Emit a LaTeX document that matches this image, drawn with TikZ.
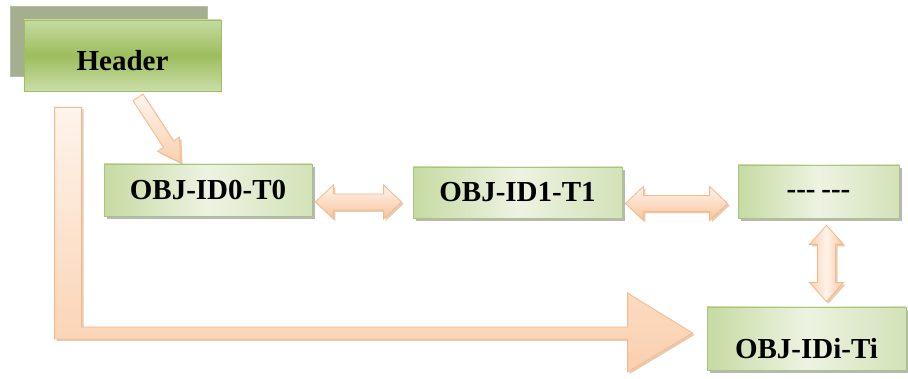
\documentclass[tikz,border=0pt]{standalone}
\usepackage{fontspec}
\setmainfont{Liberation Serif}
\usetikzlibrary{calc,shadows}

% green boxes
\definecolor{hdrTop}{HTML}{C6DAA0}
\definecolor{hdrMid}{HTML}{9DBD5D}
\definecolor{hdrBot}{HTML}{CBDDA9}
\definecolor{hdrEdge}{HTML}{9FBE62}
\definecolor{backBox}{HTML}{A5AE8F}
\definecolor{boxEdge}{HTML}{A9C57D}
\definecolor{boxLeft}{HTML}{C6DAA2}
\definecolor{boxMid}{HTML}{EDF3E2}
\definecolor{boxRight}{HTML}{D3E2B8}
% peach block arrows
\definecolor{peachEdge}{HTML}{F5B98E}
\definecolor{peachLight}{HTML}{FEF4EC}
\definecolor{peach}{HTML}{FAD0AF}
\definecolor{peachDark}{HTML}{F8C49D}

\tikzset{
  boxfont/.style={font=\fontsize{29}{34}\selectfont\bfseries},
  boxshadow/.style={drop shadow={shadow xshift=3pt, shadow yshift=-3pt, fill=black!55, opacity=0.5}},
  arrowshadow/.style={drop shadow={shadow xshift=2pt, shadow yshift=-2pt, fill=orange!70!black, opacity=0.3}},
  objbox/.style={rectangle, draw=boxEdge, line width=0.8pt,
    left color=boxLeft, right color=boxRight, middle color=boxMid,
    inner sep=0pt, text height=19pt, text depth=0pt, boxfont, boxshadow},
  hdrbox/.style={rectangle, draw=hdrEdge, line width=0.8pt,
    top color=hdrTop, bottom color=hdrBot, middle color=hdrMid,
    inner sep=0pt, text depth=0pt, boxfont},
  backbox/.style={rectangle, fill=backBox, draw=backBox!80!white, line width=0.6pt, inner sep=0pt},
  fatarrow/.style={draw=peachEdge, line width=0.8pt, line join=miter, arrowshadow},
  harrow/.style={fatarrow, top color=peachLight, bottom color=peachDark},
  varrow/.style={fatarrow, left color=peach, right color=peachDark, middle color=peachLight},
  darrow/.style={fatarrow, top color=peachLight, bottom color=peach},
  larrow/.style={fatarrow, top color=peachLight, bottom color=peach},
}

% block arrow from #2 to #3: shaft half width #4, head half width #5, head length #6
\newcommand\singlearrow[6]{%
  \draw[#1]
    ($(#2)!#4!90:(#3)$) --
    ($(#3)!#6!(#2)!#4!-90:(#2)$) --
    ($(#3)!#6!(#2)!#5!-90:(#2)$) --
    (#3) --
    ($(#3)!#6!(#2)!#5!90:(#2)$) --
    ($(#3)!#6!(#2)!#4!90:(#2)$) --
    ($(#2)!#4!-90:(#3)$) -- cycle;
}
% block arrow with heads at both ends
\newcommand\doublearrow[6]{%
  \draw[#1]
    (#2) --
    ($(#2)!#6!(#3)!#5!90:(#3)$) --
    ($(#2)!#6!(#3)!#4!90:(#3)$) --
    ($(#3)!#6!(#2)!#4!-90:(#2)$) --
    ($(#3)!#6!(#2)!#5!-90:(#2)$) --
    (#3) --
    ($(#3)!#6!(#2)!#5!90:(#2)$) --
    ($(#3)!#6!(#2)!#4!90:(#2)$) --
    ($(#2)!#6!(#3)!#4!-90:(#3)$) --
    ($(#2)!#6!(#3)!#5!-90:(#3)$) -- cycle;
}

\begin{document}
\begin{tikzpicture}[x=1pt,y=-1pt]
\useasboundingbox (0,0) rectangle (908,379);
\fill[white] (0,0) rectangle (908,379);

% header with its backing card
\node[backbox, minimum width=197pt, minimum height=70pt] (hdrback) at (108.5,41) {};
\node[hdrbox, minimum width=197pt, minimum height=71pt, text height=30pt] (hdr) at (122.5,55.5) {Header};

% object chain
\node[objbox, minimum width=208pt, minimum height=52pt] (obj0) at (208,190) {OBJ-ID0-T0};
\node[objbox, minimum width=209pt, minimum height=51pt] (obj1) at (517.5,192.5) {OBJ-ID1-T1};
\node[objbox, minimum width=161pt, minimum height=53pt, text height=15pt] (dots) at (818.5,191.5)
  {\mbox{-}\mbox{-}\mbox{-}\hspace{0.2em}\mbox{-}\mbox{-}\mbox{-}};
\node[objbox, minimum width=199pt, minimum height=63pt, text height=40pt] (obji) at (806.5,338.5) {OBJ-IDi-Ti};

% arrow end points
\coordinate (dTail) at ($(hdr.south)+(15.5,6)$);
\coordinate (dTip)  at ($(obj0.north west)+(77,-1)$);
\coordinate (h1a) at ($(obj0.east)+(3,12)$);
\coordinate (h1b) at ($(h1a -| obj1.west)+(-11,0)$);
\coordinate (h2a) at ($(obj1.east)+(3,11)$);
\coordinate (h2b) at ($(h2a -| dots.west)+(-10,0)$);
\coordinate (vA) at ($(dots.south)+(8,7)$);
\coordinate (vB) at ($(vA |- obji.north)+(0,-5)$);
\coordinate (Ltop) at ($(hdr.south west)+(31,16)$);
\coordinate (Ltip) at ($(obji.west)+(-14,-5.5)$);

% bent arrow from the header down and across to the last object
\draw[larrow] let \p1=(Ltop), \p2=(Ltip) in
  (\x1,\y1) -- (\x1+27pt,\y1) -- (\x1+27pt,\y2+6pt) -- (\x2-65pt,\y2+6pt)
  -- (\x2-65pt,\y2+40pt) -- (\x2,\y2) -- (\x2-65pt,\y2-39pt)
  -- (\x2-65pt,\y2-6pt) -- (\x1,\y2-6pt) -- cycle;

% header to first object
\singlearrow{darrow}{dTail}{dTip}{6pt}{13pt}{22pt}

% links between objects
\doublearrow{harrow}{h1a}{h1b}{8pt}{17pt}{18pt}
\doublearrow{harrow}{h2a}{h2b}{8pt}{17pt}{18pt}
\doublearrow{varrow}{vA}{vB}{9pt}{17pt}{19pt}
\end{tikzpicture}
\end{document}
